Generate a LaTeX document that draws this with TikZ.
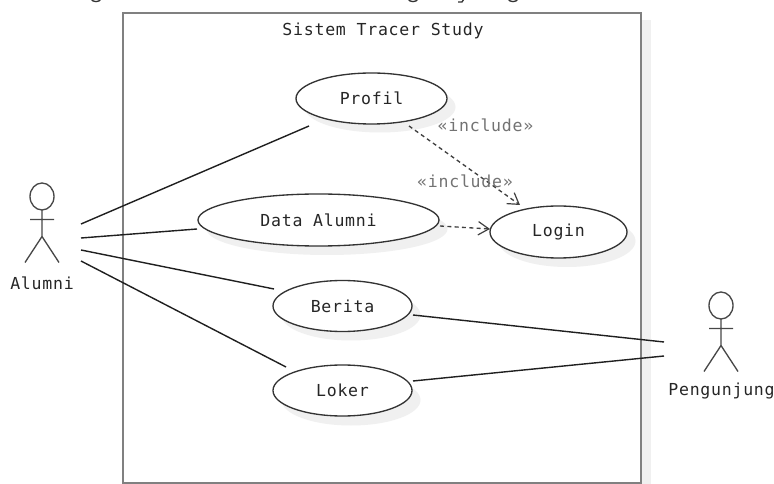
\documentclass[tikz,border=0pt]{standalone}
\usepackage{fontspec}
\setmainfont[LetterSpace=4.5]{DejaVu Sans Mono}
\usetikzlibrary{arrows.meta,shapes.geometric}
\colorlet{shadowc}{black!6}
\tikzset{
 x=0.75pt,y=-0.75pt,
 uc/.style={ellipse,draw=black!80,line width=1pt,fill=white,inner sep=0pt,text=black!85,font=\fontsize{12.4pt}{14pt}\selectfont},
 lbl/.style={font=\fontsize{12.4pt}{14pt}\selectfont,text=black!85,inner sep=0pt},
 incl/.style={font=\fontsize{12.4pt}{14pt}\selectfont,text=black!55,inner sep=0pt},
 assoc/.style={draw=black!88,line width=1.05pt},
 dep/.style={draw=black!75,line width=1pt,dash pattern=on 3pt off 2.5pt,-{Straight Barb[length=8pt,width=10pt,line width=0.9pt]}},
 stick/.style={draw=black!72,line width=1pt},
 clipped/.style={draw=black!80,line width=1pt},
}
\newcommand{\stickman}[2]{%
 \draw[stick] (#1,#2) ellipse (12 and 13.5);
 \draw[stick] (#1,#2+13.5) -- (#1,#2+40) (#1-12,#2+23) -- (#1+12,#2+23)
   (#1,#2+40) -- (#1-17,#2+66) (#1,#2+40) -- (#1+17,#2+66);}
\begin{document}
\begin{tikzpicture}
\useasboundingbox (0,0) rectangle (774,484);
% cropped heading: only the descenders remain
\begin{scope}
\clip (0,0) rectangle (774,4);
\foreach \gx in {96,413,513}
  \draw[clipped] (\gx-5,-1) .. controls (\gx-3,2.5) and (\gx+3,2.5) .. (\gx+5,-1);
\draw[clipped] (458,2) -- (462,2) -- (464,-1);
\end{scope}
% frame and shadows
\fill[shadowc] (130,20) rectangle (651,484);
\fill[white] (123,13) rectangle (641,483);
\draw[black!50,line width=1.9pt] (123,13) rectangle (641,483);
\foreach \cx/\cy/\ra/\rb in {380/107/75.5/25.5, 327/229/120.5/26, 567/241/68.5/26, 351/315/69.5/25.5, 351/400/69.5/25.5}
  \fill[shadowc] (\cx,\cy) ellipse ({\ra} and {\rb});
% title and use cases
\node[lbl] (title) at (383,31) {Sistem Tracer Study};
\node[uc,minimum width=113.25pt,minimum height=38.25pt] (profil) at (371.5,98.5) {Profil};
\node[uc,minimum width=180.75pt,minimum height=39pt] (data) at (318.5,220) {Data Alumni};
\node[uc,minimum width=102.75pt,minimum height=39pt] (login) at (558.5,232) {Login};
\node[uc,minimum width=104.25pt,minimum height=38.25pt] (berita) at (342.5,306) {Berita};
\node[uc,minimum width=104.25pt,minimum height=38.25pt] (loker) at (342.5,390.5) {Loker};
% actors
\stickman{42}{196.5}
\node[lbl] (alumni) at (42,283) {Alumni};
\stickman{721}{305.5}
\node[lbl] (pengunjung) at (721.5,391) {Pengunjung};
\coordinate (aA) at (81,224);
\coordinate (aB) at (81,238);
\coordinate (aC) at (81,250);
\coordinate (aD) at (81,261);
\coordinate (pA) at (664,342);
\coordinate (pB) at (664,356);
% associations
\draw[assoc] (aA) -- ([shift={(-62.5,27.5)}]profil.center);
\draw[assoc] (aB) -- ([shift={(-121.5,9)}]data.center);
\draw[assoc] (aC) -- ([shift={(-68.5,-17)}]berita.center);
\draw[assoc] (aD) -- ([shift={(-56.5,-23.5)}]loker.center);
\draw[assoc] ([shift={(70.5,9)}]berita.center) -- (pA);
\draw[assoc] ([shift={(70.5,-9.5)}]loker.center) -- (pB);
% includes
\draw[dep] ([shift={(37.5,27.5)}]profil.center) -- ([shift={(-38.5,-27)}]login.center);
\draw[dep] ([shift={(121.5,6)}]data.center) -- ([shift={(-68.5,-3)}]login.center);
\node[incl] (incA) at (485.5,125) {«include»};
\node[incl] (incB) at (465,181) {«include»};
\end{tikzpicture}
\end{document}
